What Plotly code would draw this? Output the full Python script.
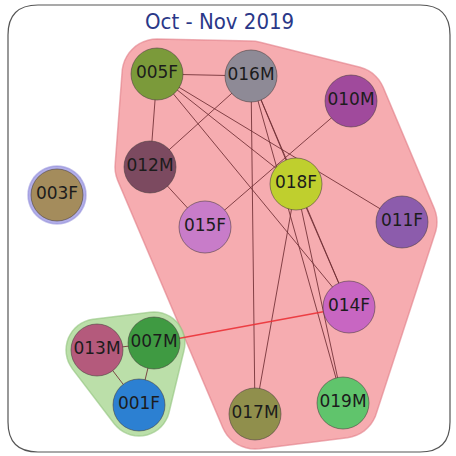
import math
import plotly.graph_objects as go

# network layout (pixel-ish coords, y grows downward)
nodes = ["005F", "016M", "010M", "012M", "018F", "003F", "015F",
         "011F", "014F", "007M", "013M", "001F", "017M", "019M"]
node_x = [157, 251, 351, 150, 296, 57, 205, 402, 349, 154, 97, 139, 255, 343]
node_y = [74, 76, 101, 167, 184, 195, 227, 222, 307, 343, 350, 405, 414, 403]
node_group = [0, 0, 0, 0, 0, 2, 0, 0, 0, 1, 1, 1, 0, 0]
node_color = ["#7b9a3a", "#8e8a96", "#a04a9c", "#7c4a60", "#bfcf2e", "#a48c5c",
              "#c87cc9", "#8c5cac", "#c866c2", "#3f9a42", "#b45a7c", "#2c80d2",
              "#908f4c", "#60c46c"]

edges = [("005F", "016M"), ("005F", "012M"), ("005F", "018F"), ("005F", "011F"),
         ("005F", "014F"), ("016M", "012M"), ("016M", "017M"), ("016M", "018F"),
         ("016M", "014F"), ("016M", "019M"), ("010M", "015F"), ("012M", "015F"),
         ("018F", "017M"), ("018F", "019M"), ("018F", "014F"),
         ("013M", "007M"), ("013M", "001F"), ("007M", "001F")]
bridge = [("007M", "014F")]

group_fill = ["rgba(245,163,167,0.9)", "rgba(180,220,160,0.9)", "rgba(165,160,228,0.85)"]
group_line = ["rgba(225,125,135,0.6)", "rgba(145,195,125,0.6)", "rgba(140,135,215,0.5)"]
group_pad = [35, 31, 29]

pos = {n: (x, y) for n, x, y in zip(nodes, node_x, node_y)}


def padded_hull(pts, r):
    cloud = []
    for px, py in pts:
        for k in range(48):
            a = 2 * math.pi * k / 48
            cloud.append((px + r * math.cos(a), py + r * math.sin(a)))
    cloud = sorted(set(cloud))

    def cross(o, a, b):
        return (a[0] - o[0]) * (b[1] - o[1]) - (a[1] - o[1]) * (b[0] - o[0])

    lower, upper = [], []
    for p in cloud:
        while len(lower) >= 2 and cross(lower[-2], lower[-1], p) <= 0:
            lower.pop()
        lower.append(p)
    for p in reversed(cloud):
        while len(upper) >= 2 and cross(upper[-2], upper[-1], p) <= 0:
            upper.pop()
        upper.append(p)
    return lower[:-1] + upper[:-1]


fig = go.Figure()

for g in range(3):
    pts = [(x, y) for x, y, gg in zip(node_x, node_y, node_group) if gg == g]
    hull = padded_hull(pts, group_pad[g])
    path = "M " + " L ".join(f"{x:.1f},{y:.1f}" for x, y in hull) + " Z"
    fig.add_shape(type="path", path=path, xref="x", yref="y", layer="below",
                  fillcolor=group_fill[g], line=dict(color=group_line[g], width=1.5))

ex, ey = [], []
for a, b in edges:
    ex += [pos[a][0], pos[b][0], None]
    ey += [pos[a][1], pos[b][1], None]
fig.add_trace(go.Scatter(x=ex, y=ey, mode="lines", hoverinfo="skip",
                         line=dict(color="rgba(110,45,50,0.85)", width=1)))

bx, by = [], []
for a, b in bridge:
    bx += [pos[a][0], pos[b][0], None]
    by += [pos[a][1], pos[b][1], None]
fig.add_trace(go.Scatter(x=bx, y=by, mode="lines", hoverinfo="skip",
                         line=dict(color="rgba(235,50,55,0.9)", width=1.3)))

fig.add_trace(go.Scatter(
    x=node_x, y=node_y, mode="markers+text", text=nodes,
    textposition="middle center",
    textfont=dict(family="DejaVu Sans", size=17, color="#1c1c1c"),
    marker=dict(size=52, color=node_color, line=dict(color="rgba(70,60,60,0.55)", width=1)),
))

# rounded frame
fig.add_shape(type="path", xref="x", yref="y",
              path="M 38,5 L 420,5 Q 450,5 450,35 L 450,422 Q 450,452 420,452 "
                   "L 38,452 Q 8,452 8,422 L 8,35 Q 8,5 38,5 Z",
              line=dict(color="#555555", width=1.2))

fig.add_annotation(x=219, y=21, xref="x", yref="y", text="Oct - Nov 2019",
                   showarrow=False,
                   font=dict(family="DejaVu Sans Condensed, Liberation Sans Narrow, Roboto, sans-serif",
                             size=22, color="#2a3888"))

fig.update_layout(
    width=456, height=456, margin=dict(l=0, r=0, t=0, b=0),
    paper_bgcolor="white", plot_bgcolor="white", showlegend=False,
    xaxis=dict(range=[0, 456], visible=False, fixedrange=True),
    yaxis=dict(range=[456, 0], visible=False, fixedrange=True),
)

fig.write_html("out.html", config={"displayModeBar": False},
               post_script="document.body.style.margin='0';")
